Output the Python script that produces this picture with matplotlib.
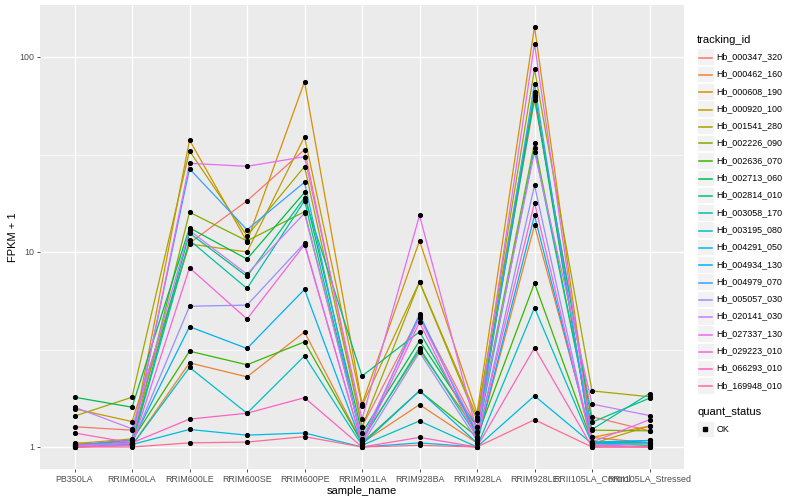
import matplotlib
matplotlib.use("Agg")
import matplotlib.pyplot as plt
from matplotlib.ticker import FixedLocator, NullFormatter
from matplotlib.patches import Rectangle
from matplotlib.lines import Line2D
import numpy as np

plt.rcParams['font.family'] = ['Liberation Sans', 'DejaVu Sans']

samples = ['PB350LA', 'RRIM600LA', 'RRIM600LE', 'RRIM600SE', 'RRIM600PE', 'RRIM901LA',
           'RRIM928BA', 'RRIM928LA', 'RRIM928LE', 'RRII105LA_Control', 'RRII105LA_Stressed']

tracking_ids = ['Hb_000347_320', 'Hb_000462_160', 'Hb_000608_190', 'Hb_000920_100',
                'Hb_001541_280', 'Hb_002226_090', 'Hb_002636_070', 'Hb_002713_060',
                'Hb_002814_010', 'Hb_003058_170', 'Hb_003195_080', 'Hb_004291_050',
                'Hb_004934_130', 'Hb_004979_070', 'Hb_005057_030', 'Hb_020141_030',
                'Hb_027337_130', 'Hb_029223_010', 'Hb_066293_010', 'Hb_169948_010']

# FPKM + 1, one row per tracking_id, columns follow samples
fpkm = [
    [1.27, 1.22, 11.1, 18.3, 33.5, 1.27, 4.7, 1.27, 60.1, 1.43, 1.21],
    [1.05, 1.02, 2.70, 2.29, 3.89, 1.05, 1.65, 1.05, 13.7, 1.12, 1.05],
    [1.04, 1.10, 37.5, 11.3, 74.7, 1.66, 11.4, 1.49, 143.0, 1.12, 1.28],
    [1.57, 1.35, 11.0, 10.0, 39.0, 1.63, 7.04, 1.43, 66.0, 1.04, 1.28],
    [1.44, 1.80, 33.0, 12.1, 27.4, 1.27, 7.0, 1.37, 86.8, 1.94, 1.81],
    [1.03, 1.05, 16.0, 11.4, 16.1, 1.10, 3.14, 1.20, 36.3, 1.22, 1.21],
    [1.02, 1.08, 3.10, 2.64, 3.46, 1.05, 1.94, 1.13, 6.93, 1.06, 1.05],
    [1.80, 1.60, 13.3, 9.2, 20.2, 1.18, 3.5, 1.27, 64.0, 1.04, 1.02],
    [1.02, 1.04, 12.5, 7.5, 19.0, 2.31, 3.9, 1.20, 62.5, 1.34, 1.78],
    [1.00, 1.03, 11.5, 6.5, 18.3, 1.08, 3.23, 1.13, 34.0, 1.23, 1.88],
    [1.00, 1.02, 2.56, 1.49, 2.93, 1.02, 1.36, 1.00, 5.18, 1.04, 1.05],
    [1.02, 1.03, 1.23, 1.15, 1.18, 1.00, 1.05, 1.00, 1.83, 1.04, 1.08],
    [1.01, 1.06, 4.14, 3.2, 6.43, 1.03, 1.94, 1.05, 15.4, 1.06, 1.08],
    [1.02, 1.09, 26.7, 13.0, 22.8, 1.05, 4.8, 1.13, 72.8, 1.00, 1.05],
    [1.01, 1.04, 5.27, 5.34, 11.1, 1.03, 3.06, 1.08, 22.0, 1.02, 1.04],
    [1.60, 1.24, 12.9, 7.7, 15.8, 1.10, 4.6, 1.20, 32.6, 1.66, 1.45],
    [1.02, 1.05, 28.5, 27.5, 30.8, 1.39, 15.4, 1.20, 117.0, 1.06, 1.38],
    [1.00, 1.02, 8.3, 4.53, 10.9, 1.04, 4.36, 1.10, 17.9, 1.02, 1.00],
    [1.18, 1.05, 1.39, 1.49, 1.79, 1.00, 1.12, 1.00, 3.23, 1.00, 1.00],
    [1.00, 1.00, 1.05, 1.06, 1.13, 1.00, 1.02, 1.00, 1.38, 1.00, 1.00],
]

# ggplot default hue palette for 20 levels
colors = ['#F8766D', '#EA8331', '#D89000', '#C09B00', '#A3A500', '#7CAE00', '#39B600',
          '#00BB4E', '#00BF7D', '#00C1A3', '#00BFC4', '#00BAE0', '#00B0F6', '#35A2FF',
          '#9590FF', '#C77CFF', '#E76BF3', '#FA62DB', '#FF62BC', '#FF6C91']

W, H = 800, 500
fig = plt.figure(figsize=(8, 5), dpi=100)
ax = fig.add_axes([40 / W, 1 - 469 / H, (684 - 40) / W, (469 - 5) / H])
ax.set_facecolor('#EBEBEB')

x = np.arange(len(samples))
for vals, c in zip(fpkm, colors):
    ax.plot(x, vals, color=c, lw=0.9, zorder=2)
for vals in fpkm:
    ax.plot(x, vals, ls='none', marker='o', ms=2.7, color='black', zorder=3)

ax.set_yscale('log')
ax.set_ylim(10 ** (-22 / 195), 10 ** (442 / 195))
ax.set_xlim(-0.6, len(samples) - 0.4)
ax.set_xticks(x)
ax.set_xticklabels(samples)
ax.yaxis.set_major_locator(FixedLocator([1, 10, 100]))
ax.yaxis.set_major_formatter(matplotlib.ticker.FixedFormatter(['1', '10', '100']))
ax.yaxis.set_minor_locator(FixedLocator([10 ** 0.5, 10 ** 1.5]))
ax.yaxis.set_minor_formatter(NullFormatter())
ax.tick_params(which='minor', length=0)
ax.tick_params(which='major', length=2.5, width=0.6, color='#333333',
               labelcolor='#4D4D4D', labelsize=6.4, pad=1.5)
ax.grid(which='major', color='white', lw=1.0)
ax.grid(which='minor', axis='y', color='white', lw=0.5)
ax.set_axisbelow(True)
for s in ax.spines.values():
    s.set_visible(False)

ax.set_xlabel('sample_name', fontsize=8, labelpad=2)
ax.set_ylabel('FPKM + 1', fontsize=8, labelpad=1)

# legends drawn by hand, ggplot style
def fx(px):
    return px / W

def fy(py):
    return 1 - py / H

fig.text(fx(697), fy(40), 'tracking_id', fontsize=8, va='center', ha='left')
row = 17.3
for i, (tid, c) in enumerate(zip(tracking_ids, colors)):
    yc = 56.7 + i * row
    fig.patches.append(Rectangle((fx(697), fy(yc + 8.3)), 16.5 / W, 16.6 / H,
                                 transform=fig.transFigure, facecolor='#F2F2F2',
                                 edgecolor='white', lw=0.6, zorder=1))
    fig.lines.append(Line2D([fx(698.5), fx(712)], [fy(round(yc) + 0.5)] * 2,
                            transform=fig.transFigure, color=c, lw=1.1, zorder=3))
    fig.text(fx(716.5), fy(yc), tid, fontsize=6.4, va='center', ha='left')

fig.text(fx(697), fy(412), 'quant_status', fontsize=8, va='center', ha='left')
fig.patches.append(Rectangle((fx(697), fy(429 + 8.3)), 16.5 / W, 16.6 / H,
                             transform=fig.transFigure, facecolor='#F2F2F2',
                             edgecolor='white', lw=0.6, zorder=1))
fig.lines.append(Line2D([fx(705)], [fy(429)], transform=fig.transFigure,
                        ls='none', marker='s', ms=2.5, color='black', zorder=3))
fig.text(fx(716.5), fy(429), 'OK', fontsize=6.4, va='center', ha='left')

fig.savefig('out.png', dpi=100)
